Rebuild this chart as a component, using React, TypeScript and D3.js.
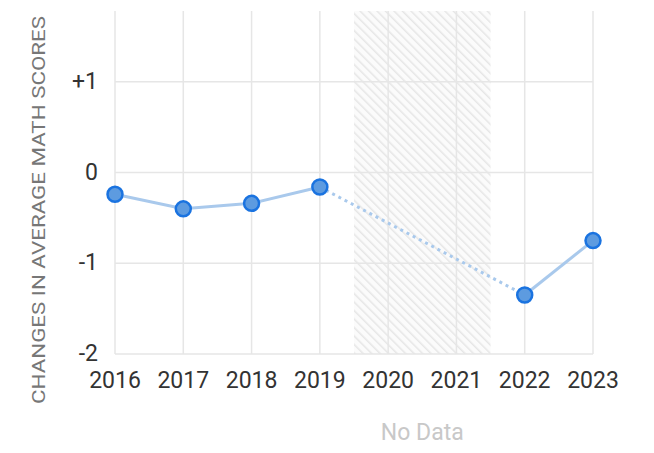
import React from "react";
import * as d3 from "d3";

const years = [2016, 2017, 2018, 2019, 2020, 2021, 2022, 2023];
const yTicks = [1, 0, -1, -2];
const yTickLabels = ["+1", "0", "-1", "-2"];
const measuredYears = [2016, 2017, 2018, 2019, 2022, 2023];
const scoreChanges = [-0.24, -0.4, -0.34, -0.16, -1.35, -0.75];
const noDataRange = [2019.5, 2021.5];

const width = 654;
const height = 453;
const margin = { top: 11, right: 61, bottom: 99, left: 115 };

const App: React.FC = () => {
  const x = d3
    .scaleLinear()
    .domain([2016, 2023])
    .range([margin.left, width - margin.right]);
  const y = d3
    .scaleLinear()
    .domain([-2, 1.78])
    .range([height - margin.bottom, margin.top]);

  const points = measuredYears.map((yr, i) => ({ yr, v: scoreChanges[i] }));
  const line = d3
    .line<{ yr: number; v: number }>()
    .x((d) => x(d.yr))
    .y((d) => y(d.v));

  const before = points.filter((p) => p.yr <= 2019);
  const after = points.filter((p) => p.yr >= 2022);
  const gap = [before[before.length - 1], after[0]];

  const font = "Roboto, 'Segoe UI', Arial, sans-serif";

  return (
    <svg
      width={width}
      height={height}
      style={{ position: "absolute", left: 0, top: 0 }}
    >
      <defs>
        <pattern
          id="hatch"
          width={6}
          height={6}
          patternUnits="userSpaceOnUse"
          patternTransform="rotate(-45)"
        >
          <rect width={6} height={6} fill="#fbfbfb" />
          <line x1={0} y1={0} x2={0} y2={6} stroke="#e6e6e6" strokeWidth={3} />
        </pattern>
      </defs>

      {/* no data band */}
      <rect
        x={x(noDataRange[0])}
        y={margin.top}
        width={x(noDataRange[1]) - x(noDataRange[0])}
        height={y(-2) - margin.top}
        fill="url(#hatch)"
      />

      {/* grid */}
      {years.map((yr) => (
        <line
          key={yr}
          x1={x(yr)}
          x2={x(yr)}
          y1={margin.top}
          y2={y(-2)}
          stroke="#e6e6e6"
          strokeWidth={1.5}
        />
      ))}
      {yTicks.map((t) => (
        <line
          key={t}
          x1={x(2016)}
          x2={x(2023)}
          y1={y(t)}
          y2={y(t)}
          stroke="#e6e6e6"
          strokeWidth={1.5}
        />
      ))}

      {/* y labels */}
      {yTicks.map((t, i) => (
        <text
          key={t}
          x={x(2016) - 17}
          y={y(t) + 7}
          textAnchor="end"
          fontFamily={font}
          fontSize={23}
          fill="#333"
        >
          {yTickLabels[i]}
        </text>
      ))}

      {/* x labels */}
      {years.map((yr) => (
        <text
          key={yr}
          x={x(yr)}
          y={388}
          textAnchor="middle"
          fontFamily={font}
          fontSize={23}
          fill="#333"
        >
          {yr}
        </text>
      ))}

      <text
        x={(x(noDataRange[0]) + x(noDataRange[1])) / 2}
        y={440}
        textAnchor="middle"
        fontFamily={font}
        fontSize={23}
        fill="#c8c8c8"
      >
        No Data
      </text>

      <text
        transform={`translate(45, ${210}) rotate(-90)`}
        textAnchor="middle"
        fontFamily={font}
        fontSize={19}
        fill="#777"
        textLength={388}
        lengthAdjust="spacingAndGlyphs"
      >
        CHANGES IN AVERAGE MATH SCORES
      </text>

      {/* lines */}
      <path
        d={line(before) ?? ""}
        fill="none"
        stroke="#a9c9ec"
        strokeWidth={3}
      />
      <path
        d={line(after) ?? ""}
        fill="none"
        stroke="#a9c9ec"
        strokeWidth={3}
      />
      <path
        d={line(gap) ?? ""}
        fill="none"
        stroke="#a9c9ec"
        strokeWidth={3}
        strokeDasharray="3 4"
      />

      {points.map((p) => (
        <circle
          key={p.yr}
          cx={x(p.yr)}
          cy={y(p.v)}
          r={7.5}
          fill="#5d9be0"
          stroke="#1a73e0"
          strokeWidth={2.5}
        />
      ))}
    </svg>
  );
};

export default App;
